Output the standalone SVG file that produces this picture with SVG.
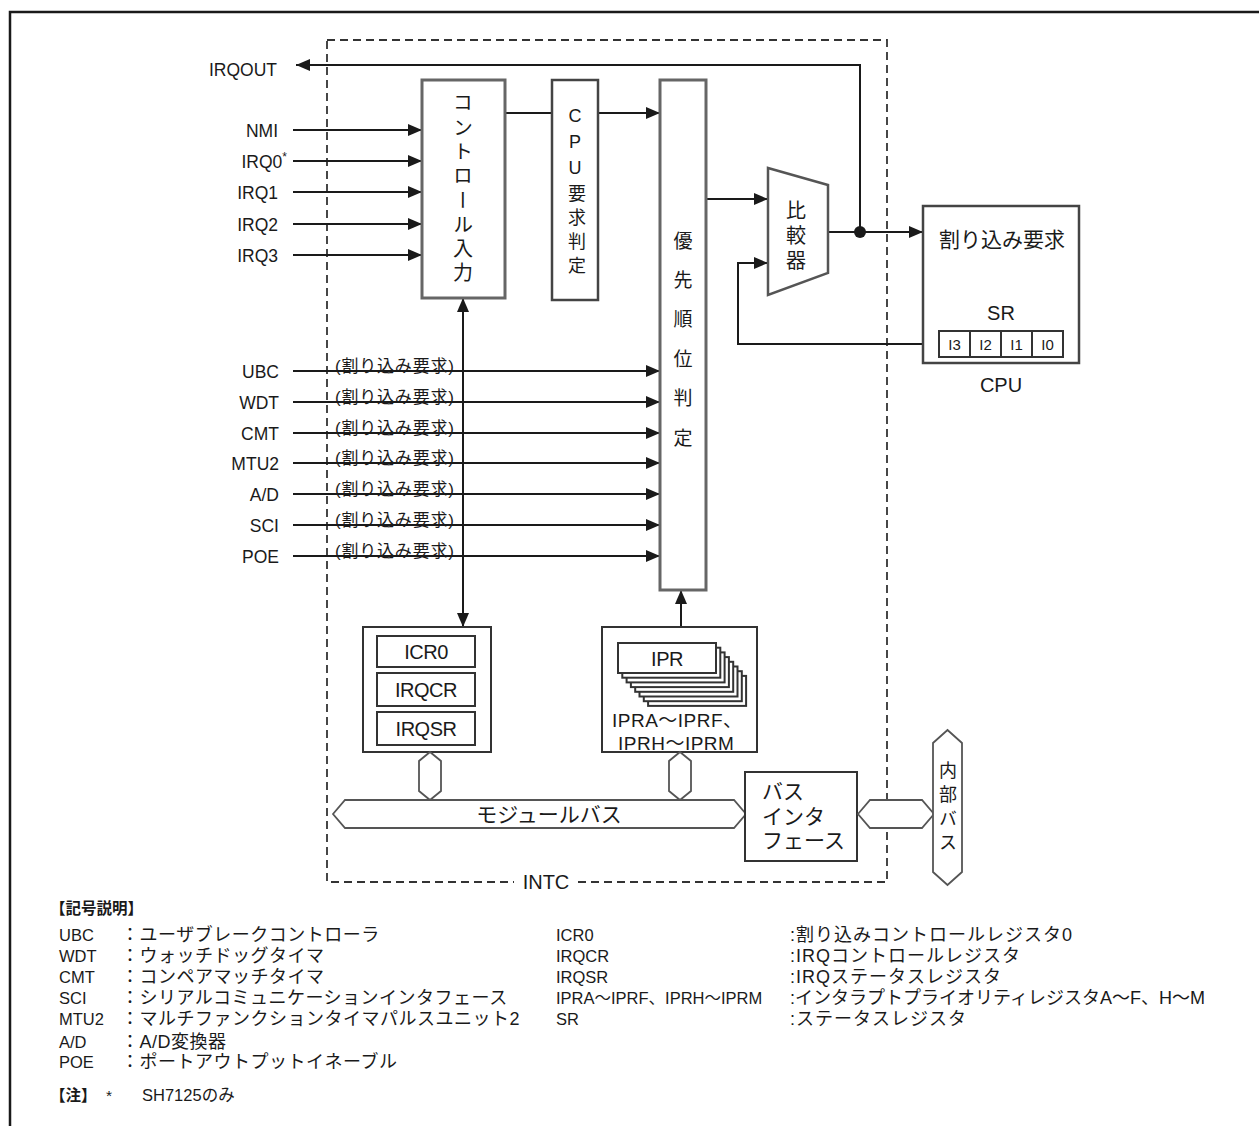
<svg xmlns="http://www.w3.org/2000/svg" width="1259" height="1126" viewBox="0 0 1259 1126">
<defs>
<style>
text{fill:#1a1a1a;font-family:"Liberation Sans","Noto Sans CJK JP",sans-serif}
.jp{font-family:"Noto Sans CJK JP",sans-serif}
.ln{stroke:#1a1a1a;stroke-width:2;fill:none}
.box{fill:#fff;stroke:#333;stroke-width:2}
.gbox{fill:#fff;stroke:#666;stroke-width:3}
.hex{fill:#fff;stroke:#555;stroke-width:1.8}
.lbl{font-size:17.5px}
.req{font-size:17px;letter-spacing:0.8px}
.vt{writing-mode:vertical-rl;text-orientation:upright;text-anchor:middle}
.mid{text-anchor:middle}
.end{text-anchor:end}
.leg{font-size:16.5px}
.legj{font-size:18px;letter-spacing:0.5px}
.legr{font-size:18px;letter-spacing:1px}
.legr2{font-size:18px;letter-spacing:0px}
</style>
<marker id="ah" viewBox="0 0 14 12" refX="14" refY="6" markerWidth="14" markerHeight="12" markerUnits="userSpaceOnUse" orient="auto-start-reverse"><path d="M0,0L14,6L0,12z" fill="#1a1a1a"/></marker>
</defs>
<rect width="1259" height="1126" fill="#fff"/>
<path d="M10,1126V12H1259" fill="none" stroke="#1a1a1a" stroke-width="2.5"/>

<g id="intc">
<rect x="327" y="40" width="560" height="842" fill="none" stroke="#333" stroke-width="1.8" stroke-dasharray="8 5"/>
<rect x="514" y="872" width="64" height="20" fill="#fff"/>
<text x="546" y="889" class="mid" font-size="20">INTC</text>
</g>

<g id="signals">
<text x="277" y="76" class="end lbl">IRQOUT</text>
<text x="278" y="137" class="end lbl">NMI</text>
<text x="287" y="168" class="end lbl">IRQ0<tspan dy="-7" font-size="12">*</tspan></text>
<text x="278" y="199" class="end lbl">IRQ1</text>
<text x="278" y="231" class="end lbl">IRQ2</text>
<text x="278" y="262" class="end lbl">IRQ3</text>
<text x="279" y="378" class="end lbl">UBC</text>
<text x="279" y="409" class="end lbl">WDT</text>
<text x="279" y="440" class="end lbl">CMT</text>
<text x="279" y="470" class="end lbl">MTU2</text>
<text x="279" y="501" class="end lbl">A/D</text>
<text x="279" y="532" class="end lbl">SCI</text>
<text x="279" y="563" class="end lbl">POE</text>
</g>

<g id="connectors">
<path class="ln" d="M860,232V65H296" marker-end="url(#ah)"/>
<path class="ln" d="M293,130H422" marker-end="url(#ah)"/>
<path class="ln" d="M293,161H422" marker-end="url(#ah)"/>
<path class="ln" d="M293,192H422" marker-end="url(#ah)"/>
<path class="ln" d="M293,224H422" marker-end="url(#ah)"/>
<path class="ln" d="M293,255H422" marker-end="url(#ah)"/>
<path class="ln" d="M505,113H552"/>
<path class="ln" d="M598,113H660" marker-end="url(#ah)"/>
<path class="ln" d="M706,199H768" marker-end="url(#ah)"/>
<path class="ln" d="M828,232H923" marker-end="url(#ah)"/>
<circle cx="860" cy="232" r="6" fill="#1a1a1a"/>
<path class="ln" d="M939,344H738V263H768" marker-end="url(#ah)"/>
<path class="ln" d="M293,371H660" marker-end="url(#ah)"/>
<path class="ln" d="M293,402H660" marker-end="url(#ah)"/>
<path class="ln" d="M293,433H660" marker-end="url(#ah)"/>
<path class="ln" d="M293,463H660" marker-end="url(#ah)"/>
<path class="ln" d="M293,494H660" marker-end="url(#ah)"/>
<path class="ln" d="M293,525H660" marker-end="url(#ah)"/>
<path class="ln" d="M293,556H660" marker-end="url(#ah)"/>
<path class="ln" d="M463,298V627" marker-start="url(#ah)" marker-end="url(#ah)"/>
<path class="ln" d="M681,627V590" marker-end="url(#ah)"/>
<text x="335" y="372" class="req">(割り込み要求)</text>
<text x="335" y="403" class="req">(割り込み要求)</text>
<text x="335" y="434" class="req">(割り込み要求)</text>
<text x="335" y="464" class="req">(割り込み要求)</text>
<text x="335" y="495" class="req">(割り込み要求)</text>
<text x="335" y="526" class="req">(割り込み要求)</text>
<text x="335" y="557" class="req">(割り込み要求)</text>
</g>

<g id="control-input">
<rect x="422" y="80" width="83" height="218" class="gbox"/>
<text x="463" y="190" class="vt jp" font-size="20" letter-spacing="4.3">コントロール入力</text>
</g>

<g id="cpu-request">
<rect x="552" y="80" width="46" height="220" fill="#fff" stroke="#444" stroke-width="2.5"/>
<text x="575" y="193" class="vt" font-size="18" letter-spacing="6">CPU要求判定</text>
</g>

<g id="priority">
<rect x="660" y="80" width="46" height="510" class="gbox"/>
<text x="683" y="349" class="vt jp" font-size="19" letter-spacing="20.4">優先順位判定</text>
</g>

<g id="comparator">
<polygon points="768,168 828,185 828,273 768,295" fill="#fff" stroke="#555" stroke-width="2.5"/>
<text x="796" y="238" class="vt jp" font-size="20" letter-spacing="5">比較器</text>
</g>

<g id="cpu">
<rect x="923" y="206" width="156" height="157" fill="#fff" stroke="#444" stroke-width="2.5"/>
<text x="1002" y="247" class="mid" font-size="21">割り込み要求</text>
<text x="1001" y="320" class="mid" font-size="20">SR</text>
<rect x="939" y="331" width="124" height="26" fill="#fff" stroke="#333" stroke-width="2"/>
<path d="M970,331V357M1001,331V357M1032,331V357" stroke="#333" stroke-width="2"/>
<text x="954.5" y="350" class="mid" font-size="15">I3</text>
<text x="985.5" y="350" class="mid" font-size="15">I2</text>
<text x="1016.5" y="350" class="mid" font-size="15">I1</text>
<text x="1047.5" y="350" class="mid" font-size="15">I0</text>
<text x="1001" y="392" class="mid" font-size="20">CPU</text>
</g>

<g id="irq-registers">
<rect x="363" y="627" width="128" height="125" class="box"/>
<rect x="377" y="636" width="98" height="31" class="box"/>
<rect x="377" y="673" width="98" height="33" class="box"/>
<rect x="377" y="712" width="98" height="33" class="box"/>
<text x="426" y="659" class="mid" font-size="20" letter-spacing="-0.5">ICR0</text>
<text x="426" y="697" class="mid" font-size="20" letter-spacing="-0.5">IRQCR</text>
<text x="426" y="736" class="mid" font-size="20" letter-spacing="-0.5">IRQSR</text>
</g>

<g id="ipr-registers">
<rect x="602" y="627" width="155" height="125" fill="#fff"/>
<rect x="648.1" y="675.9" width="98" height="30" class="box"/>
<rect x="643.8" y="671.2" width="98" height="30" class="box"/>
<rect x="639.5" y="666.5" width="98" height="30" class="box"/>
<rect x="635.2" y="661.8" width="98" height="30" class="box"/>
<rect x="630.9" y="657.1" width="98" height="30" class="box"/>
<rect x="626.6" y="652.4" width="98" height="30" class="box"/>
<rect x="622.3" y="647.7" width="98" height="30" class="box"/>
<rect x="618" y="643" width="98" height="30" class="box"/>
<text x="667" y="666" class="mid" font-size="20" letter-spacing="-0.5">IPR</text>
<text x="612" y="727" font-size="19" letter-spacing="0.5">IPRA～IPRF、</text>
<text x="618" y="750" font-size="19" letter-spacing="0.5">IPRH～IPRM</text>
<rect x="602" y="627" width="155" height="125" fill="none" stroke="#333" stroke-width="2"/>
</g>

<g id="module-bus">
<polygon points="430,752 441,761 441,791 430,800 419,791 419,761" class="hex"/>
<polygon points="680,752 691,761 691,791 680,800 669,791 669,761" class="hex"/>
<polygon points="333,814 345,800 734,800 746,814 734,828 345,828" class="hex"/>
<text x="549" y="822" class="mid" font-size="21">モジュールバス</text>
</g>

<g id="bus-interface">
<rect x="745" y="772" width="112" height="89" class="box"/>
<text x="762" y="799" font-size="21">バス</text>
<text x="762" y="824" font-size="21">インタ</text>
<text x="762" y="848" font-size="21">フェース</text>
</g>

<g id="internal-bus">
<polygon points="858,814 870,800 922,800 934,814 922,828 870,828" class="hex"/>
<polygon points="947.5,730 962,743 962,872 947.5,885 933,872 933,743" class="hex"/>
<text x="948" y="809" class="vt jp" font-size="18" letter-spacing="6">内部バス</text>
</g>

<g id="legend">
<text x="50" y="914" class="jp" font-size="15.5" font-weight="bold">【記号説明】</text>
<text x="59" y="941" class="leg">UBC</text>
<text x="59" y="962" class="leg">WDT</text>
<text x="59" y="983" class="leg">CMT</text>
<text x="59" y="1004" class="leg">SCI</text>
<text x="59" y="1025" class="leg">MTU2</text>
<text x="59" y="1048" class="leg">A/D</text>
<text x="59" y="1068" class="leg">POE</text>
<text x="121" y="941" class="legj">：ユーザブレークコントローラ</text>
<text x="121" y="962" class="legj">：ウォッチドッグタイマ</text>
<text x="121" y="983" class="legj">：コンペアマッチタイマ</text>
<text x="121" y="1004" class="legj">：シリアルコミュニケーションインタフェース</text>
<text x="121" y="1025" class="legj">：マルチファンクションタイマパルスユニット2</text>
<text x="121" y="1048" class="legj">：A/D変換器</text>
<text x="121" y="1068" class="legj">：ポートアウトプットイネーブル</text>
<text x="556" y="941" class="leg">ICR0</text>
<text x="556" y="962" class="leg">IRQCR</text>
<text x="556" y="983" class="leg">IRQSR</text>
<text x="556" y="1004" class="leg">IPRA～IPRF、IPRH～IPRM</text>
<text x="556" y="1025" class="leg">SR</text>
<text x="790" y="941" class="legr">:割り込みコントロールレジスタ0</text>
<text x="790" y="962" class="legr">:IRQコントロールレジスタ</text>
<text x="790" y="983" class="legr">:IRQステータスレジスタ</text>
<text x="790" y="1004" class="legr2">:インタラプトプライオリティレジスタA～F、H～M</text>
<text x="790" y="1025" class="legr">:ステータスレジスタ</text>
<text x="50" y="1101" class="jp" font-size="15.5" font-weight="bold">【注】</text>
<text x="106" y="1101" font-size="15.5">*</text>
<text x="142" y="1101" class="leg">SH7125のみ</text>
</g>
</svg>
